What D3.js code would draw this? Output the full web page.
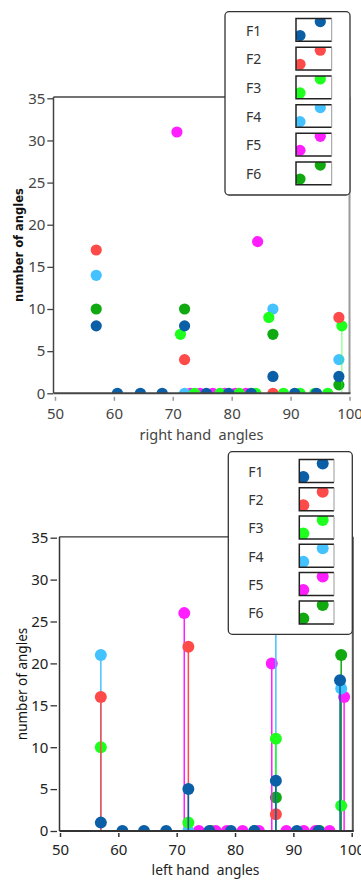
<!DOCTYPE html>
<html>
<head>
<meta charset="utf-8">
<script src="https://cdn.jsdelivr.net/npm/d3@7/dist/d3.min.js"></script>
<style>
  html, body { margin: 0; padding: 0; background: #fff; }
  svg { display: block; }
  text { font-family: "Noto Sans", "Open Sans", sans-serif; }
</style>
</head>
<body>
<script>
// ---------------- DATA ----------------
const seriesNames = ["F1", "F2", "F3", "F4", "F5", "F6"];
const seriesColors = ["#0a5fa6", "#ff4a4a", "#1eff1e", "#44c2ff", "#ff1eff", "#10aa10"];
const xTicks = [50, 60, 70, 80, 90, 100];
const yTicks = [0, 5, 10, 15, 20, 25, 30, 35];

// right hand angles (top chart)
const rightF1X = [57, 60.6, 64.5, 68.2, 72, 75.7, 79.5, 83.3, 87, 90.7, 94.4, 98.2];
const rightF1Y = [8, 0, 0, 0, 8, 0, 0, 0, 2, 0, 0, 2];
const rightF2X = [57, 72, 87, 98.2];
const rightF2Y = [17, 4, 0, 9];
const rightF3X = [71.3, 73.7, 78, 81.3, 84.1, 86.3, 88.8, 91.6, 94.1, 96.3, 98.7];
const rightF3Y = [7, 0, 0, 0, 0, 9, 0, 0, 0, 0, 8];
const rightF4X = [57, 72, 87, 98.2];
const rightF4Y = [14, 0, 10, 4];
const rightF5X = [70.7, 73, 74.6, 76.8, 78.8, 80.6, 82.4, 84.4];
const rightF5Y = [31, 0, 0, 0, 0, 0, 0, 18];
const rightF6X = [57, 72, 87, 98.2];
const rightF6Y = [10, 10, 7, 1];
const rightStemSeries = ["F3"];
const rightStemX = [98.7];
const rightStemY = [8];

// left hand angles (bottom chart)
const leftF1X = [57, 60.7, 64.4, 68.2, 72, 75.6, 79.3, 83.3, 87, 90.6, 94.3, 98];
const leftF1Y = [1, 0, 0, 0, 5, 0, 0, 0, 6, 0, 0, 18];
const leftF2X = [57, 72, 87];
const leftF2Y = [16, 22, 2];
const leftF3X = [57, 72, 87, 98.2];
const leftF3Y = [10, 1, 11, 3];
const leftF4X = [57, 72, 87, 98.2];
const leftF4Y = [21, 0, 30, 17];
const leftF5X = [71.3, 73.8, 76.7, 78.6, 81.3, 84.1, 86.3, 88.8, 91.8, 93.8, 96.2, 98.7];
const leftF5Y = [26, 0, 0, 0, 0, 0, 20, 0, 0, 0, 0, 16];
const leftF6X = [75.9, 83.4, 87, 94.5, 98.2];
const leftF6Y = [0, 0, 4, 0, 21];
const leftStemSeries = ["F6", "F5", "F5", "F5", "F4", "F4", "F3", "F2", "F2", "F1", "F1", "F1"];
const leftStemX = [98.2, 71.3, 86.3, 98.7, 57, 87, 87, 57, 72, 72, 87, 98];
const leftStemY = [21, 26, 20, 16, 21, 30, 11, 16, 22, 5, 6, 18];

// ---------------- BUILD ----------------
const rightSeries = [
  [rightF1X, rightF1Y], [rightF2X, rightF2Y], [rightF3X, rightF3Y],
  [rightF4X, rightF4Y], [rightF5X, rightF5Y], [rightF6X, rightF6Y]
];
const leftSeries = [
  [leftF1X, leftF1Y], [leftF2X, leftF2Y], [leftF3X, leftF3Y],
  [leftF4X, leftF4Y], [leftF5X, leftF5Y], [leftF6X, leftF6Y]
];

const svg = d3.select("body").append("svg").attr("width", 361).attr("height", 880);

function drawChart(cfg) {
  const g = svg.append("g");
  const x = d3.scaleLinear().domain([50, 100]).range(cfg.xRange);
  const y = d3.scaleLinear().domain([0, 35]).range(cfg.yRange);
  const L = cfg.frame.left, R = cfg.frame.right, T = cfg.frame.top, B = cfg.frame.bottom;

  const clipId = "clip" + cfg.id;
  svg.append("defs").append("clipPath").attr("id", clipId)
    .append("rect").attr("x", L).attr("y", T).attr("width", R - L).attr("height", B - T);

  // frame
  g.append("line").attr("x1", L).attr("x2", R).attr("y1", T).attr("y2", T)
    .attr("stroke", cfg.frameColor).attr("stroke-width", 1.3);
  g.append("line").attr("x1", R).attr("x2", R).attr("y1", T).attr("y2", B)
    .attr("stroke", cfg.rightColor).attr("stroke-width", 2);

  // plot contents
  const plot = g.append("g").attr("clip-path", `url(#${clipId})`);
  for (let i = seriesNames.length - 1; i >= 0; i--) {
    const name = seriesNames[i];
    const col = seriesColors[i];
    const sg = plot.append("g");
    const stems = cfg.stemSeries.map((s, k) => ({ s, x: cfg.stemX[k], y: cfg.stemY[k] }))
      .filter(d => d.s === name);
    sg.selectAll("line.stem").data(stems).join("line")
      .attr("class", "stem")
      .attr("x1", d => x(d.x)).attr("x2", d => x(d.x))
      .attr("y1", d => y(d.y)).attr("y2", y(0))
      .attr("stroke", col).attr("stroke-width", 1.5)
      .attr("stroke-opacity", cfg.stemOpacity);
    const [xs, ys] = cfg.series[i];
    const pts = xs.map((v, k) => ({ x: v, y: ys[k] }));
    sg.selectAll("circle").data(pts).join("circle")
      .attr("cx", d => x(d.x)).attr("cy", d => y(d.y)).attr("r", cfg.r)
      .attr("fill", col);
  }

  // left spine & bottom axis line
  g.append("line").attr("x1", L).attr("x2", L).attr("y1", T).attr("y2", B)
    .attr("stroke", cfg.frameColor).attr("stroke-width", 1.5);
  g.append("line").attr("x1", L).attr("x2", R + 1).attr("y1", B).attr("y2", B)
    .attr("stroke", cfg.frameColor).attr("stroke-width", 2);

  // y axis
  const ya = g.append("g").attr("transform", `translate(${cfg.yAxisX},0)`)
    .call(d3.axisLeft(y).tickValues(yTicks).tickSize(cfg.yTickSize).tickPadding(cfg.yPad));
  ya.select(".domain").remove();
  ya.selectAll(".tick line").attr("stroke", cfg.tickColor).attr("stroke-width", 1.3);
  ya.selectAll(".tick text").attr("fill", cfg.labelColor)
    .style("font-size", cfg.tickFont + "px").style("font-family", '"Noto Sans", sans-serif');

  // x axis
  const xa = g.append("g").attr("transform", `translate(0,${cfg.xAxisY})`)
    .call(d3.axisBottom(x).tickValues(xTicks).tickSize(4).tickPadding(cfg.xPad));
  xa.select(".domain").remove();
  xa.selectAll(".tick line").attr("stroke", cfg.xTickColor).attr("stroke-width", 1.5);
  xa.selectAll(".tick text").attr("fill", cfg.labelColor)
    .style("font-size", cfg.tickFont + "px").style("font-family", '"Noto Sans", sans-serif');

  // axis titles
  g.append("text").attr("x", cfg.xTitle[0]).attr("y", cfg.xTitle[1])
    .attr("text-anchor", "middle").style("white-space", "pre")
    .style("font-size", cfg.xTitleFont + "px").attr("fill", cfg.labelColor)
    .text(cfg.xTitleText);
  g.append("text").attr("transform", `translate(${cfg.yTitle[0]},${cfg.yTitle[1]}) rotate(-90)`)
    .attr("text-anchor", "middle")
    .style("font-size", cfg.yTitleFont + "px")
    .style("font-family", cfg.yTitleFamily)
    .style("font-weight", cfg.yTitleWeight)
    .attr("fill", "#111")
    .text("number of angles");

  // legend
  const lg = cfg.legend;
  const leg = g.append("g");
  leg.append("rect").attr("x", lg.x).attr("y", lg.y).attr("width", lg.w).attr("height", lg.h)
    .attr("rx", 4).attr("fill", "#fff").attr("stroke", "#333").attr("stroke-width", 1.3);
  seriesNames.forEach((name, i) => {
    const cy = lg.row0 + i * lg.step;
    leg.append("text").attr("x", lg.textX).attr("y", cy).attr("dy", "0.35em")
      .style("font-size", "14px").attr("fill", "#333").text(name);
    const sx = lg.swX, sy = cy - lg.swH / 2 - 0.8;
    const cid = "sw" + cfg.id + i;
    svg.select("defs").append("clipPath").attr("id", cid)
      .append("rect").attr("x", sx).attr("y", sy).attr("width", lg.swW).attr("height", lg.swH);
    const sw = leg.append("g").attr("clip-path", `url(#${cid})`);
    sw.append("circle").attr("cx", sx + lg.d1[0]).attr("cy", sy + lg.d1[1]).attr("r", cfg.r)
      .attr("fill", seriesColors[i]);
    sw.append("circle").attr("cx", sx + lg.d2[0]).attr("cy", sy + lg.d2[1]).attr("r", cfg.r)
      .attr("fill", seriesColors[i]);
    leg.append("path")
      .attr("d", `M${sx + lg.swW},${sy} H${sx} V${sy + lg.swH} H${sx + lg.swW}`)
      .attr("fill", "none").attr("stroke", "#222").attr("stroke-width", 1.5);
    leg.append("line").attr("x1", sx + lg.swW).attr("x2", sx + lg.swW)
      .attr("y1", sy).attr("y2", sy + lg.swH)
      .attr("stroke", "#999").attr("stroke-width", 1);
  });
}

drawChart({
  id: "top",
  series: rightSeries,
  stemSeries: rightStemSeries, stemX: rightStemX, stemY: rightStemY, stemOpacity: 0.45,
  xRange: [55, 349.5], yRange: [393.3, 98.3],
  frame: { left: 53.5, right: 349.5, top: 97, bottom: 393.3 },
  frameColor: "#444", rightColor: "#9a9a9a", tickColor: "#444", xTickColor: "#999",
  labelColor: "#444",
  r: 5.6,
  yAxisX: 53.3, yTickSize: 6, yPad: 2,
  xAxisY: 396.8, xPad: 7.3,
  tickFont: 15,
  xTitle: [201.5, 439.5], xTitleText: "right hand  angles", xTitleFont: 14.5,
  yTitle: [22.5, 245], yTitleFont: 11.5, yTitleFamily: '"DejaVu Sans", sans-serif', yTitleWeight: "bold",
  legend: { x: 225, y: 11.7, w: 125, h: 183.3, row0: 30.7, step: 28.7, textX: 246,
            swX: 296, swW: 35.7, swH: 22.7, d1: [4, 17], d2: [24.3, 3] }
});

drawChart({
  id: "bot",
  series: leftSeries,
  stemSeries: leftStemSeries, stemX: leftStemX, stemY: leftStemY, stemOpacity: 1,
  xRange: [60, 351.7], yRange: [831, 537.7],
  frame: { left: 59.5, right: 352.8, top: 536.8, bottom: 831 },
  frameColor: "#333", rightColor: "#555", tickColor: "#333", xTickColor: "#333",
  labelColor: "#222",
  r: 6,
  yAxisX: 57, yTickSize: 6.5, yPad: 2.2,
  xAxisY: 833, xPad: 7.8,
  tickFont: 15,
  xTitle: [205.5, 875], xTitleText: "left hand  angles", xTitleFont: 13.8,
  yTitle: [26.5, 684], yTitleFont: 13.5, yTitleFamily: '"Noto Sans", sans-serif', yTitleWeight: "normal",
  legend: { x: 228.3, y: 451.7, w: 124, h: 182.6, row0: 471.7, step: 28.3, textX: 248.3,
            swX: 299.3, swW: 34.7, swH: 23, d1: [4, 17.5], d2: [23.4, 4] }
});
</script>
</body>
</html>
